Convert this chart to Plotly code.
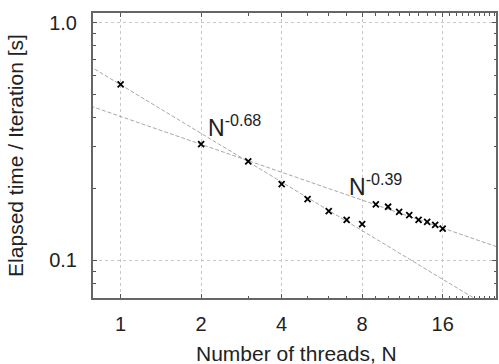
import numpy as np
import plotly.graph_objects as go

# Data
threads = [1, 2, 3, 4, 5, 6, 7, 8, 9, 10, 11, 12, 13, 14, 15, 16]
elapsed = [0.55, 0.308, 0.261, 0.209, 0.181, 0.161, 0.148, 0.142,
           0.172, 0.168, 0.160, 0.155, 0.148, 0.145, 0.141, 0.136]

# power-law guide lines: prefactor * N^exponent
fit_labels = ["N<sup>-0.68</sup>", "N<sup>-0.39</sup>"]
fit_prefactor = [0.548, 0.403]
fit_exponent = [-0.68, -0.39]
fit_span = [0.7, 30.0]
fit_label_x = [2.08, 7.0]
fit_label_y = [0.369, 0.208]

x_tickvals = [1, 2, 4, 8, 16]
x_ticktext = ["1", "2", "4", "8", "16"]
y_tickvals = [0.1, 1.0]
y_ticktext = ["0.1", "1.0"]
x_minor = [3, 5, 6, 7, 9, 10, 11, 12, 13, 14, 15, 17, 18, 19, 20, 21, 22, 23, 24, 25]
y_minor = [0.07, 0.08, 0.09, 0.2, 0.3, 0.4, 0.5, 0.6, 0.7, 0.8, 0.9]
x_title = "Number of threads, N"
y_title = "Elapsed time / Iteration [s]"

FONT = "Liberation Sans, Arial, Helvetica, sans-serif"
TXT = "#222222"

fig = go.Figure()
nn = np.geomspace(fit_span[0], fit_span[1], 200)
for a, p in zip(fit_prefactor, fit_exponent):
    fig.add_trace(go.Scatter(x=nn, y=a * nn ** p, mode="lines",
                             line=dict(color="#a8a8a8", width=1, dash="4px,2px"),
                             hoverinfo="skip", showlegend=False))

fig.add_trace(go.Scatter(x=threads, y=elapsed, mode="markers",
                         marker=dict(symbol="x-thin", size=6, color="black",
                                     line=dict(width=1.8, color="black")),
                         showlegend=False))

for lbl, lx, ly in zip(fit_labels, fit_label_x, fit_label_y):
    fig.add_annotation(x=np.log10(lx), y=np.log10(ly), text=lbl,
                       showarrow=False, xanchor="left", yanchor="middle",
                       font=dict(family=FONT, size=23, color=TXT))

# x-axis title placed below the tick labels
fig.add_annotation(xref="paper", yref="paper", x=0.505, y=-0.196,
                   text=x_title, showarrow=False,
                   xanchor="center", yanchor="middle",
                   font=dict(family=FONT, size=21, color=TXT))

axis_common = dict(
    showline=True, linecolor="#666666", linewidth=2, mirror="allticks",
    ticks="inside", ticklen=4, tickcolor="#555555", tickwidth=1,
    showgrid=True, gridcolor="#c8c8c8", griddash="dot", gridwidth=1,
    zeroline=False,
    tickfont=dict(family=FONT, size=20, color=TXT),
)

fig.update_xaxes(type="log", range=[-0.1033, 1.4035],
                 tickmode="array", tickvals=x_tickvals, ticktext=x_ticktext,
                 ticklabelstandoff=7,
                 minor=dict(tickmode="array", tickvals=x_minor, ticks="inside",
                            ticklen=2.5, tickcolor="#555555", showgrid=False),
                 **axis_common)
fig.update_yaxes(type="log", range=[-1.1589, 0.0409],
                 tickmode="array", tickvals=y_tickvals, ticktext=y_ticktext,
                 ticklabelstandoff=10,
                 minor=dict(tickmode="array", tickvals=y_minor, ticks="inside",
                            ticklen=2.5, tickcolor="#555555", showgrid=False),
                 title=dict(text=y_title, standoff=20,
                            font=dict(family=FONT, size=21, color=TXT)),
                 **axis_common)

fig.update_layout(width=499, height=364,
                  margin=dict(l=93, r=1, t=13, b=66, pad=0),
                  plot_bgcolor="white", paper_bgcolor="white",
                  showlegend=False)

fig.write_html("out.html",
               config={"displayModeBar": False},
               post_script="document.body.style.margin='0';"
                           "document.body.style.overflow='hidden';"
                           "document.documentElement.style.overflow='hidden';")
